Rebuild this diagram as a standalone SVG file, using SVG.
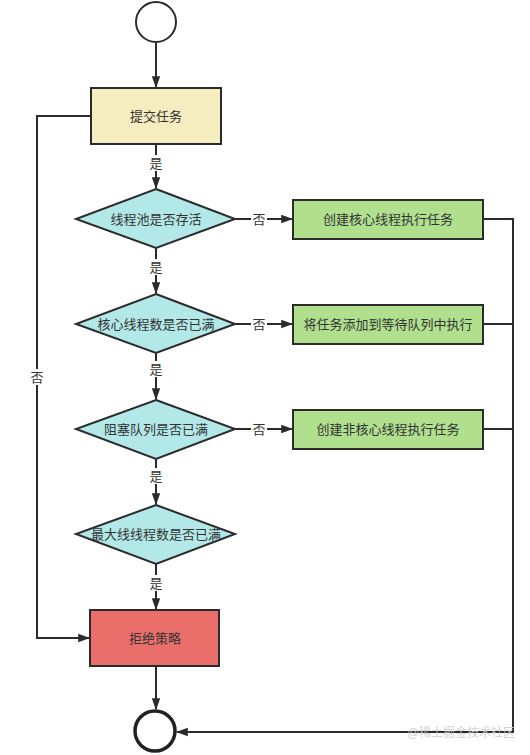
<svg xmlns="http://www.w3.org/2000/svg" width="530" height="755" viewBox="0 0 530 755">
<style>
.s{stroke:#2b2b2b;stroke-width:2;}
.t{font-family:"Liberation Sans","Noto Sans CJK SC",sans-serif;font-size:13px;fill:#333;text-anchor:middle;dominant-baseline:central;}
.l{font-family:"Liberation Sans","Noto Sans CJK SC",sans-serif;font-size:13px;fill:#333;text-anchor:middle;dominant-baseline:central;}
.c{fill:none;stroke:#2b2b2b;stroke-width:2;}
.bg{fill:#ffffff;}
</style>
<defs>
<marker id="a" viewBox="0 0 10 10" refX="9" refY="5" markerWidth="7" markerHeight="7" markerUnits="userSpaceOnUse" orient="auto">
<path d="M0,0 L10,5 L0,10 Z" fill="#2b2b2b"/>
</marker>
<marker id="b" viewBox="0 0 10 10" refX="9" refY="5" markerWidth="12" markerHeight="12" markerUnits="userSpaceOnUse" orient="auto">
<path d="M0,1.5 L10,5 L0,8.5 Z" fill="#2b2b2b"/>
</marker>
</defs>
<rect width="530" height="755" fill="#ffffff"/>
<g id="connectors">
<path class="c" d="M156,43 V87" marker-end="url(#b)"/>
<path class="c" d="M156,144 V188" marker-end="url(#b)"/>
<path class="c" d="M156,248 V293" marker-end="url(#b)"/>
<path class="c" d="M156,353 V399" marker-end="url(#b)"/>
<path class="c" d="M156,459 V504" marker-end="url(#b)"/>
<path class="c" d="M156,564 V609" marker-end="url(#b)"/>
<path class="c" d="M156,666 V709" marker-end="url(#b)"/>
<path class="c" d="M235,219 H292" marker-end="url(#b)"/>
<path class="c" d="M235,324 H292" marker-end="url(#b)"/>
<path class="c" d="M235,429 H292" marker-end="url(#b)"/>
<path class="c" d="M90,116 H37 V638 H89" marker-end="url(#b)"/>
<path class="c" d="M483,219 H513 V732 H177" marker-end="url(#b)"/>
<path class="c" d="M483,324 H513"/>
<path class="c" d="M483,429 H513"/>
<rect class="bg" x="148" y="155" width="16" height="16"/>
<text class="l" x="156" y="163">是</text>
<rect class="bg" x="148" y="259" width="16" height="16"/>
<text class="l" x="156" y="267">是</text>
<rect class="bg" x="148" y="361" width="16" height="16"/>
<text class="l" x="156" y="369">是</text>
<rect class="bg" x="148" y="468" width="16" height="16"/>
<text class="l" x="156" y="476">是</text>
<rect class="bg" x="148" y="575" width="16" height="16"/>
<text class="l" x="156" y="583">是</text>
<rect class="bg" x="251" y="211" width="16" height="16"/>
<text class="l" x="259" y="219">否</text>
<rect class="bg" x="251" y="316" width="16" height="16"/>
<text class="l" x="259" y="324">否</text>
<rect class="bg" x="251" y="421" width="16" height="16"/>
<text class="l" x="259" y="429">否</text>
<rect class="bg" x="29" y="369" width="16" height="16"/>
<text class="l" x="37" y="377">否</text>
</g>
<g id="start">
<circle class="s" cx="156" cy="22" r="20" fill="#ffffff"/>
</g>
<g id="submit">
<rect class="s" x="91" y="88" width="130" height="56" fill="#f5edc0"/>
<text class="t" x="156" y="116">提交任务</text>
</g>
<g id="d1">
<polygon class="s" points="156,189 235,219 156,248 76,219" fill="#b2e8e8"/>
<text class="t" x="156" y="219">线程池是否存活</text>
</g>
<g id="d2">
<polygon class="s" points="156,294 235,324 156,353 76,324" fill="#b2e8e8"/>
<text class="t" x="156" y="324">核心线程数是否已满</text>
</g>
<g id="d3">
<polygon class="s" points="156,400 235,429 156,459 76,429" fill="#b2e8e8"/>
<text class="t" x="156" y="429">阻塞队列是否已满</text>
</g>
<g id="d4">
<polygon class="s" points="156,505 235,534 156,564 76,534" fill="#b2e8e8"/>
<text class="t" x="156" y="534">最大线线程数是否已满</text>
</g>
<g id="g1">
<rect class="s" x="293" y="200" width="190" height="39" fill="#b0e08e"/>
<text class="t" x="388" y="219">创建核心线程执行任务</text>
</g>
<g id="g2">
<rect class="s" x="293" y="305" width="190" height="39" fill="#b0e08e"/>
<text class="t" x="388" y="324">将任务添加到等待队列中执行</text>
</g>
<g id="g3">
<rect class="s" x="293" y="410" width="190" height="39" fill="#b0e08e"/>
<text class="t" x="388" y="429">创建非核心线程执行任务</text>
</g>
<g id="reject">
<rect class="s" x="90" y="610" width="129" height="56" fill="#ea6f6b"/>
<text class="t" x="155" y="638">拒绝策略</text>
</g>
<g id="end">
<circle cx="155" cy="731" r="20" fill="#ffffff" stroke="#222" stroke-width="3.5"/>
</g>
<text x="461" y="733" font-family="'Liberation Sans','Noto Sans CJK SC',sans-serif" font-size="12" fill="#c8c8c8" fill-opacity="0.85" text-anchor="middle" dominant-baseline="central">@稀土掘金技术社区</text>
</svg>
